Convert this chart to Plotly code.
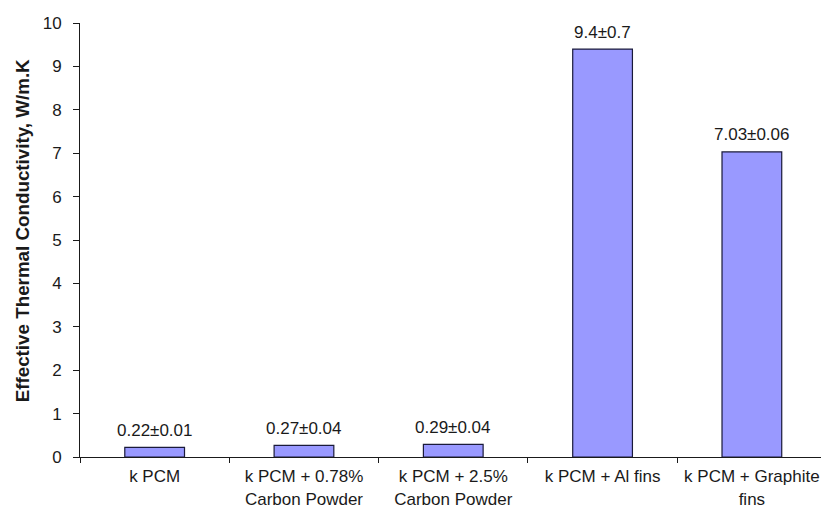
import plotly.graph_objects as go

# Effective thermal conductivity of PCM composites
categories = [
    "k PCM",
    "k PCM + 0.78%<br>Carbon Powder",
    "k PCM + 2.5%<br>Carbon Powder",
    "k PCM + Al fins",
    "k PCM + Graphite<br>fins",
]
conductivity = [0.22, 0.27, 0.29, 9.4, 7.03]
uncertainty = [0.01, 0.04, 0.04, 0.7, 0.06]
y_ticks = [0, 1, 2, 3, 4, 5, 6, 7, 8, 9, 10]

value_labels = [f"{v:g}±{e:g}" for v, e in zip(conductivity, uncertainty)]

FONT = "Liberation Sans, Arial, sans-serif"
INK = "#1a1a1a"

fig = go.Figure()
fig.add_trace(go.Bar(
    x=categories,
    y=conductivity,
    width=0.4,
    marker=dict(color="#9999ff", line=dict(color="#1a1a3a", width=1.2)),
    showlegend=False,
))

# value ± uncertainty above each bar
for cat, val, lab in zip(categories, conductivity, value_labels):
    fig.add_annotation(
        x=cat, y=val, text=lab,
        showarrow=False, yanchor="middle", yshift=17,
        font=dict(family=FONT, size=17, color=INK),
    )

# rotated y-axis title
fig.add_annotation(
    xref="paper", yref="paper", x=0, y=0.52,
    xanchor="center", yanchor="middle", xshift=-58,
    text="<b>Effective Thermal Conductivity, W/m.K</b>",
    textangle=-90, showarrow=False,
    font=dict(family=FONT, size=18.8, color=INK),
)

fig.update_layout(
    width=821,
    height=508,
    margin=dict(l=80, r=0, t=23, b=51),
    paper_bgcolor="white",
    plot_bgcolor="white",
    font=dict(family=FONT, size=17, color=INK),
)
fig.update_xaxes(
    type="category",
    range=[-0.5, 4.463],
    showline=True,
    linecolor=INK,
    linewidth=1,
    ticks="outside",
    tickson="boundaries",
    ticklen=5,
    tickcolor=INK,
    showgrid=False,
    zeroline=False,
    ticklabelstandoff=4,
    tickfont=dict(family=FONT, size=17, color=INK),
)
fig.update_yaxes(
    range=[0, 10],
    tickvals=y_ticks,
    showline=True,
    linecolor=INK,
    linewidth=1,
    ticks="outside",
    ticklen=6,
    tickcolor=INK,
    showgrid=False,
    zeroline=False,
    ticklabelstandoff=8,
    tickfont=dict(family=FONT, size=17, color=INK),
)

fig.write_html("out.html")
